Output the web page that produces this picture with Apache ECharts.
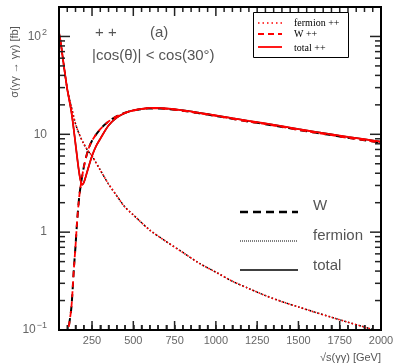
<!DOCTYPE html>
<html>
<head>
<meta charset="utf-8">
<script src="https://cdn.jsdelivr.net/npm/echarts@6/dist/echarts.min.js"></script>
<style>
html,body{margin:0;padding:0;background:#fff;}
#c{width:397px;height:364px;background:#fff;}
</style>
</head>
<body>
<div id="c"></div>
<script>
// ---- data ----
const fermionX = [50,60,75,100,125,150,175,200,225,250,300,350,400,450,500,600,700,800,900,1000,1100,1200,1300,1400,1500,1600,1700,1800,1900,2000];
const fermionY = [110,88,57,29,19,12.8,9.8,8.0,6.8,6.0,4.3,3.1,2.35,1.8,1.5,1.05,0.8,0.62,0.48,0.39,0.315,0.265,0.225,0.195,0.172,0.152,0.135,0.12,0.107,0.095];

const wX = [100,110,125,140,150,160,175,200,225,250,300,350,400,450,500,550,600,650,700,800,900,1000,1100,1200,1300,1400,1500,1600,1700,1800,1900,2000];
const wY = [0.085,0.11,0.17,0.42,0.72,1.3,2.5,4.6,6.8,8.6,11.3,13.5,15.3,16.6,17.5,18.1,18.4,18.4,18.2,17.4,16.4,15.4,14.4,13.5,12.7,11.9,11.1,10.4,9.8,9.2,8.7,8.2];

const totalX = [50,60,75,100,125,140,150,160,170,180,190,200,210,225,250,275,300,350,400,450,500,550,600,650,700,800,900,1000,1100,1200,1300,1400,1500,1600,1700,1800,1900,2000];
const totalY = [110,88,57,29,17,11,8,5.8,4.3,3.4,3.05,3.2,3.6,4.4,6.0,7.6,9.0,12.3,14.8,16.5,17.6,18.2,18.6,18.6,18.4,17.6,16.6,15.6,14.6,13.7,12.9,12.1,11.3,10.6,10.0,9.4,8.9,8.4];

const xMajorTicks = [250,500,750,1000,1250,1500,1750,2000];
const yMajorTicks = [0.1,1,10,100];

// ---- helpers ----
const zip = (xs, ys) => xs.map((x, i) => [x, ys[i]]);
const xMinorTicks = [];
for (let v = 50; v <= 2000; v += 50) if (v % 250 !== 0) xMinorTicks.push(v);
const yMinorTicks = [];
[0.1, 1, 10].forEach(d => { for (let k = 2; k <= 9; k++) yMinorTicks.push(+(k * d).toPrecision(3)); });

const labCol = '#666';
const sansFont = 'Liberation Sans, Arial, sans-serif';
const serifFont = 'Liberation Serif, Times New Roman, serif';

// tick items: [value, length, isY]
const tickData = []
  .concat(xMajorTicks.map(v => [v, 9, 0]))
  .concat(xMinorTicks.map(v => [v, 5, 0]))
  .concat(yMajorTicks.map(v => [v, 11, 1]))
  .concat(yMinorTicks.map(v => [v, 6, 1]));

function line(name, xs, ys, color, width, type, z) {
  return {
    name, type: 'line',
    data: zip(xs, ys), showSymbol: false, smooth: 0.3, clip: true, z,
    lineStyle: {color, width, type}
  };
}

function tickNear(params, api) {
  var v = api.value(0), len = api.value(1), isY = api.value(2);
  var cs = params.coordSys;
  if (isY) {
    var yy = api.coord([1000, v])[1];
    return {type: 'line', shape: {x1: cs.x, y1: yy, x2: cs.x + len, y2: yy}, style: {stroke: '#222', lineWidth: 1.5}};
  }
  var xx = api.coord([v, 1])[0];
  return {type: 'line', shape: {x1: xx, y1: cs.y + cs.height, x2: xx, y2: cs.y + cs.height - len}, style: {stroke: '#222', lineWidth: 1.5}};
}
function tickFar(params, api) {
  var v = api.value(0), len = api.value(1), isY = api.value(2);
  var cs = params.coordSys;
  if (isY) {
    var yy = api.coord([1000, v])[1];
    return {type: 'line', shape: {x1: cs.x + cs.width, y1: yy, x2: cs.x + cs.width - len, y2: yy}, style: {stroke: '#222', lineWidth: 1.5}};
  }
  var xx = api.coord([v, 1])[0];
  return {type: 'line', shape: {x1: xx, y1: cs.y, x2: xx, y2: cs.y + len}, style: {stroke: '#222', lineWidth: 1.5}};
}

const chart = echarts.init(document.getElementById('c'), null, {renderer: 'canvas'});
chart.setOption({
  animation: false,
  grid: {left: 59, right: 16, top: 7, bottom: 34},
  xAxis: {
    type: 'value', min: 50, max: 2000, interval: 50,
    axisLine: {show: true, onZero: false, lineStyle: {color: '#000', width: 2}},
    axisTick: {show: true, inside: true, length: 5, lineStyle: {color: '#222', width: 1.5}},
    axisLabel: {show: true, color: labCol, fontSize: 11, margin: 5, fontFamily: sansFont,
                showMinLabel: false,
                formatter: function (v) { return v % 250 === 0 ? String(v) : ''; }},
    splitLine: {show: false}
  },
  yAxis: {
    type: 'log', logBase: 10, min: 0.1, max: 200,
    axisLine: {show: true, onZero: false, lineStyle: {color: '#000', width: 2}},
    axisTick: {show: false},
    axisLabel: {
      show: true, color: labCol, fontSize: 12, margin: 12, fontFamily: sansFont, showMaxLabel: false,
      formatter: function (v) { return v >= 99 && v < 150 ? '10{s|2}' : (v < 0.5 ? '10{s|−1}' : (v < 150 ? String(Math.round(v)) : '')); },
      rich: {s: {fontSize: 9, color: labCol, verticalAlign: 'top', padding: [0, 0, 8, 1], fontFamily: sansFont}}
    },
    splitLine: {show: false}
  },
  series: [
    {type: 'custom', name: 'ticksNear', data: tickData, clip: false, z: 5, renderItem: tickNear},
    {type: 'custom', name: 'ticksFar', data: tickData, clip: false, z: 5, renderItem: tickFar},
    line('W', wX, wY, '#000', 2, [7, 5], 2),
    line('fermion', fermionX, fermionY, '#000', 1.5, [1.5, 2.5], 2),
    line('total', totalX, totalY, '#000', 1.5, 'solid', 2),
    line('fermion ++', fermionX, fermionY, '#ff0000', 1.6, [1.5, 2], 3),
    line('W ++', wX, wY, '#ff0000', 1.8, [6, 4], 3),
    line('total ++', totalX, totalY, '#ff0000', 1.8, 'solid', 3)
  ],
  graphic: [
    {type: 'rect', shape: {x: 59, y: 7, width: 322, height: 323}, style: {fill: 'none', stroke: '#000', lineWidth: 2}, z: 20, silent: true},
    {type: 'text', x: 15, y: 62, rotation: Math.PI / 2,
     style: {text: 'σ(γγ → γγ) [fb]', fill: '#555', font: '11px ' + sansFont, align: 'center', verticalAlign: 'middle'}},
    {type: 'text', x: 381, y: 358,
     style: {text: '√s(γγ) [GeV]', fill: '#555', font: '11px ' + sansFont, align: 'right', verticalAlign: 'middle'}},
    {type: 'text', x: 95, y: 33, style: {text: '+ +', fill: '#555', font: '15px ' + sansFont, verticalAlign: 'middle'}},
    {type: 'text', x: 150, y: 33, style: {text: '(a)', fill: '#555', font: '15px ' + sansFont, verticalAlign: 'middle'}},
    {type: 'text', x: 92, y: 56, style: {text: '|cos(θ)| < cos(30°)', fill: '#555', font: '15px ' + sansFont, verticalAlign: 'middle'}},
    {type: 'rect', shape: {x: 253.5, y: 12.5, width: 95, height: 45}, style: {fill: '#fff', stroke: '#000', lineWidth: 1}, z: 10},
    {type: 'line', shape: {x1: 258, y1: 23, x2: 282, y2: 23}, style: {stroke: '#ff0000', lineWidth: 1.6, lineDash: [1.5, 3]}, z: 11},
    {type: 'line', shape: {x1: 258, y1: 34, x2: 282, y2: 34}, style: {stroke: '#ff0000', lineWidth: 1.8, lineDash: [6, 4]}, z: 11},
    {type: 'line', shape: {x1: 258, y1: 47, x2: 282, y2: 47}, style: {stroke: '#ff0000', lineWidth: 1.8}, z: 11},
    {type: 'text', x: 294, y: 23, style: {text: 'fermion ++', fill: '#000', font: '10px ' + serifFont, verticalAlign: 'middle'}, z: 11},
    {type: 'text', x: 294, y: 34, style: {text: 'W ++', fill: '#000', font: '10px ' + serifFont, verticalAlign: 'middle'}, z: 11},
    {type: 'text', x: 294, y: 48, style: {text: 'total ++', fill: '#000', font: '10px ' + serifFont, verticalAlign: 'middle'}, z: 11},
    {type: 'line', shape: {x1: 240, y1: 212, x2: 298, y2: 212}, style: {stroke: '#000', lineWidth: 2.5, lineDash: [8, 5]}, z: 11},
    {type: 'line', shape: {x1: 240, y1: 241, x2: 298, y2: 241}, style: {stroke: '#000', lineWidth: 1, lineDash: [1, 1]}, z: 11},
    {type: 'line', shape: {x1: 240, y1: 270, x2: 298, y2: 270}, style: {stroke: '#000', lineWidth: 1.6}, z: 11},
    {type: 'text', x: 313, y: 206, style: {text: 'W', fill: '#555', font: '15px ' + sansFont, verticalAlign: 'middle'}, z: 11},
    {type: 'text', x: 313, y: 236, style: {text: 'fermion', fill: '#555', font: '15px ' + sansFont, verticalAlign: 'middle'}, z: 11},
    {type: 'text', x: 313, y: 266, style: {text: 'total', fill: '#555', font: '15px ' + sansFont, verticalAlign: 'middle'}, z: 11}
  ]
});
</script>
</body>
</html>
